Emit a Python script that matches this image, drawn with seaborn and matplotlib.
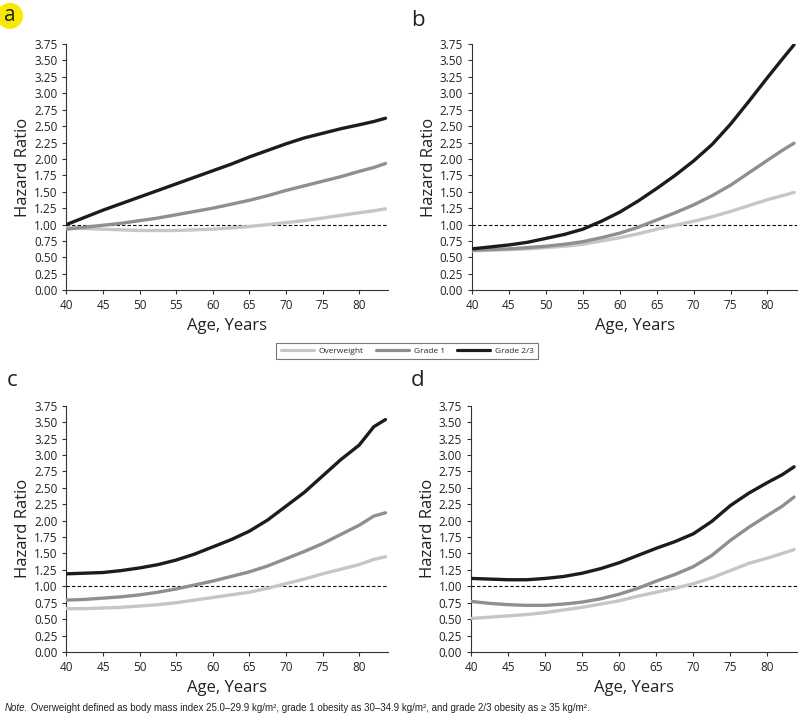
import pandas as pd
import numpy as np
import matplotlib.pyplot as plt
import seaborn as sns
from matplotlib.lines import Line2D

# Values (hazard ratio by age)
groups = ['Overweight', 'Grade 1', 'Grade 2/3']
colors = ['#c6c6c6', '#8f8f8f', '#1c1c1c']

ages = [40, 42.5, 45, 47.5, 50, 52.5, 55, 57.5, 60, 62.5, 65, 67.5,
        70, 72.5, 75, 77.5, 80, 82, 83.6]

# panel a
a_over = [0.96, 0.94, 0.93, 0.92, 0.91, 0.91, 0.91, 0.92, 0.93, 0.95, 0.97, 1.00,
          1.03, 1.06, 1.10, 1.14, 1.18, 1.21, 1.24]
a_g1 = [0.93, 0.96, 0.99, 1.02, 1.06, 1.10, 1.15, 1.20, 1.25, 1.31, 1.37, 1.44,
        1.52, 1.59, 1.66, 1.73, 1.81, 1.87, 1.93]
a_g23 = [1.00, 1.11, 1.22, 1.32, 1.42, 1.52, 1.62, 1.72, 1.82, 1.92, 2.03, 2.13,
         2.23, 2.32, 2.39, 2.46, 2.52, 2.57, 2.62]

# panel b
b_over = [0.60, 0.61, 0.62, 0.63, 0.65, 0.67, 0.70, 0.75, 0.80, 0.86, 0.93, 0.99,
          1.05, 1.12, 1.20, 1.29, 1.38, 1.44, 1.49]
b_g1 = [0.61, 0.62, 0.63, 0.65, 0.67, 0.70, 0.74, 0.80, 0.87, 0.96, 1.07, 1.18,
        1.30, 1.44, 1.60, 1.79, 1.98, 2.13, 2.24]
b_g23 = [0.63, 0.66, 0.69, 0.73, 0.79, 0.85, 0.93, 1.05, 1.19, 1.36, 1.55, 1.75,
         1.97, 2.22, 2.53, 2.88, 3.24, 3.52, 3.74]

# panel c
c_over = [0.66, 0.66, 0.67, 0.68, 0.70, 0.72, 0.75, 0.79, 0.83, 0.87, 0.91, 0.97,
          1.04, 1.11, 1.19, 1.26, 1.33, 1.41, 1.45]
c_g1 = [0.79, 0.80, 0.82, 0.84, 0.87, 0.91, 0.96, 1.02, 1.08, 1.15, 1.22, 1.31,
        1.42, 1.53, 1.65, 1.79, 1.93, 2.07, 2.12]
c_g23 = [1.19, 1.20, 1.21, 1.24, 1.28, 1.33, 1.40, 1.49, 1.60, 1.71, 1.84, 2.01,
         2.22, 2.43, 2.68, 2.93, 3.15, 3.43, 3.54]

# panel d
d_over = [0.51, 0.53, 0.55, 0.57, 0.60, 0.64, 0.68, 0.73, 0.78, 0.85, 0.91, 0.97,
          1.04, 1.13, 1.24, 1.35, 1.43, 1.50, 1.56]
d_g1 = [0.77, 0.74, 0.72, 0.71, 0.71, 0.73, 0.76, 0.81, 0.88, 0.97, 1.08, 1.18,
        1.30, 1.47, 1.70, 1.90, 2.08, 2.22, 2.36]
d_g23 = [1.12, 1.11, 1.10, 1.10, 1.12, 1.15, 1.20, 1.27, 1.36, 1.47, 1.58, 1.68,
         1.80, 1.99, 2.23, 2.42, 2.58, 2.70, 2.82]

y_ticks = np.arange(0, 3.76, 0.25)
x_ticks = [40, 45, 50, 55, 60, 65, 70, 75, 80]

sns.set_style('ticks')
plt.rcParams['font.family'] = ['Open Sans', 'DejaVu Sans']


def make_df(over, g1, g23):
    rows = []
    for name, vals in zip(groups, [over, g1, g23]):
        for x, y in zip(ages, vals):
            rows.append({'age': x, 'hr': y, 'group': name})
    return pd.DataFrame(rows)


panels = {
    'a': make_df(a_over, a_g1, a_g23),
    'b': make_df(b_over, b_g1, b_g23),
    'c': make_df(c_over, c_g1, c_g23),
    'd': make_df(d_over, d_g1, d_g23),
}

fig = plt.figure(figsize=(8, 7.22), dpi=100)
positions = {
    'a': [0.0830, 0.598, 0.4025, 0.341],
    'b': [0.590, 0.598, 0.4063, 0.341],
    'c': [0.0830, 0.097, 0.4025, 0.341],
    'd': [0.589, 0.097, 0.4073, 0.341],
}

for key, df in panels.items():
    ax = fig.add_axes(positions[key])
    ax.axhline(1.0, color='black', lw=0.8, ls=(0, (3, 2)), zorder=1)
    sns.lineplot(data=df, x='age', y='hr', hue='group', hue_order=groups,
                 palette=colors, linewidth=2.4, legend=False, ax=ax, zorder=3)
    ax.set_xlim(40, 84)
    ax.set_ylim(0, 3.75)
    ax.set_xticks(x_ticks)
    ax.set_yticks(y_ticks)
    ax.set_yticklabels([f'{v:.2f}' for v in y_ticks])
    ax.tick_params(labelsize=8.5, length=3, width=0.8, color='#333333', labelcolor='#222222')
    ax.set_xlabel('Age, Years', fontsize=12, color='#222222')
    ax.set_ylabel('Hazard Ratio', fontsize=12, color='#222222', labelpad=2)
    sns.despine(ax=ax)
    for s in ['left', 'bottom']:
        ax.spines[s].set_linewidth(0.8)
        ax.spines[s].set_color('#333333')

# panel letters
fig.text(0.0125, 0.978, 'a', fontsize=15, ha='center', va='center', color='#222222',
         bbox=dict(boxstyle='circle,pad=0.12', fc='#f5ea00', ec='none'))
fig.text(0.514, 0.972, 'b', fontsize=16, ha='left', va='center', color='#222222')
fig.text(0.008, 0.473, 'c', fontsize=16, ha='left', va='center', color='#222222')
fig.text(0.514, 0.473, 'd', fontsize=16, ha='left', va='center', color='#222222')

# shared legend
handles = [Line2D([], [], color=c, lw=2.3) for c in colors]
leg = fig.legend(handles, groups, loc='center', bbox_to_anchor=(0.509, 0.514), ncol=3,
                 fontsize=6, frameon=True, fancybox=False, handlelength=4.0,
                 columnspacing=1.4, borderpad=0.5, handletextpad=0.6)
leg.get_frame().set_edgecolor('#555555')
leg.get_frame().set_linewidth(0.8)

# note
note_font = ['Liberation Sans Narrow', 'Liberation Sans', 'DejaVu Sans']
t1 = fig.text(0.006, 0.019, 'Note.', fontsize=7, style='italic', ha='left', va='center',
              color='#222222', family=note_font)
plt.annotate(' Overweight defined as body mass index 25.0–29.9 kg/m², grade 1 obesity as '
             '30–34.9 kg/m², and grade 2/3 obesity as ≥ 35 kg/m².',
             xy=(1, 0), xycoords=t1, ha='left', va='bottom', fontsize=7,
             color='#222222', family=note_font, annotation_clip=False)

fig.savefig('out.png', dpi=100)
